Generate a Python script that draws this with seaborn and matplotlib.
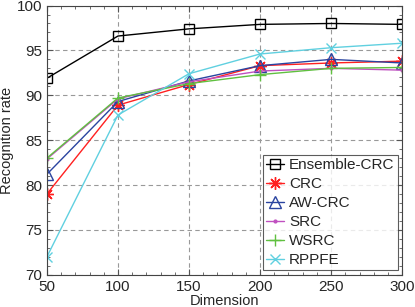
import numpy as np
import pandas as pd
import matplotlib
matplotlib.use('Agg')
import matplotlib.pyplot as plt
from matplotlib.ticker import MultipleLocator
import seaborn as sns


dimension = [50, 100, 150, 200, 250, 300]
ensemble_crc = [91.9, 96.6, 97.4, 97.9, 98.0, 97.9]
crc = [79.0, 88.9, 91.2, 93.3, 93.6, 93.8]
aw_crc = [81.2, 89.3, 91.6, 93.3, 94.0, 93.6]
src = [82.9, 89.6, 91.5, 92.7, 93.0, 92.8]
wsrc = [83.0, 89.7, 91.3, 92.3, 93.0, 93.1]
rppfe = [72.0, 87.8, 92.4, 94.6, 95.3, 95.8]

methoden = ['Ensemble-CRC', 'CRC', 'AW-CRC', 'SRC', 'WSRC', 'RPPFE']
farben = ['#000000', '#ff2020', '#2a44a0', '#c050c0', '#60c040', '#60d0e0']
marker = ['s', (8, 2, 0), '^', '.', '+', 'x']
markergroesse = [7, 9, 9, 4, 9, 7]


def erstelle_diagramm():
    daten = pd.DataFrame({'Dimension': dimension * 6,
                          'rate': ensemble_crc + crc + aw_crc + src + wsrc + rppfe,
                          'Methode': np.repeat(methoden, len(dimension))})
    sns.set_style('ticks')
    plt.rcParams['font.family'] = ['Liberation Sans', 'DejaVu Sans']
    fig = plt.figure(figsize=(4.15, 3.07), dpi=100)
    ax = fig.add_axes([0.113, 0.105, 0.856, 0.877])
    for name, farbe, m, ms in zip(methoden, farben, marker, markergroesse):
        teil = daten[daten['Methode'] == name]
        sns.lineplot(data=teil, x='Dimension', y='rate', ax=ax, color=farbe,
                     marker=m, markersize=ms,
                     markerfacecolor='none' if m in ('s', '^') else farbe,
                     markeredgecolor=farbe, markeredgewidth=1.0, linewidth=1.0,
                     label=name)
    ax.set_xlim(50, 300)
    ax.set_ylim(70, 100)
    ax.xaxis.set_major_locator(MultipleLocator(50))
    ax.yaxis.set_major_locator(MultipleLocator(5))
    ax.xaxis.set_minor_locator(MultipleLocator(10))
    ax.yaxis.set_minor_locator(MultipleLocator(1))
    ax.grid(True, which='major', linestyle=(0, (4, 3)), color='#999999', linewidth=0.8)
    ax.tick_params(which='both', direction='in', top=True, right=True, labelsize=11,
                   color='#555555')
    ax.tick_params(which='major', length=4)
    ax.tick_params(which='minor', length=2)
    for s in ax.spines.values():
        s.set_color('#444444')
        s.set_linewidth(0.8)
    ax.set_xlabel('Dimension', fontsize=10.5, labelpad=0)
    ax.set_ylabel('Recognition rate', fontsize=10.5, labelpad=2)
    leg = ax.legend(loc='lower right', fontsize=11, frameon=True, fancybox=False,
                    edgecolor='#333333', handlelength=1.2, handletextpad=0.3,
                    labelspacing=0.33, borderpad=0.2, borderaxespad=0.3)
    leg.get_frame().set_linewidth(0.8)
    fig.savefig('out.png', dpi=100)


if __name__ == '__main__':
    erstelle_diagramm()
